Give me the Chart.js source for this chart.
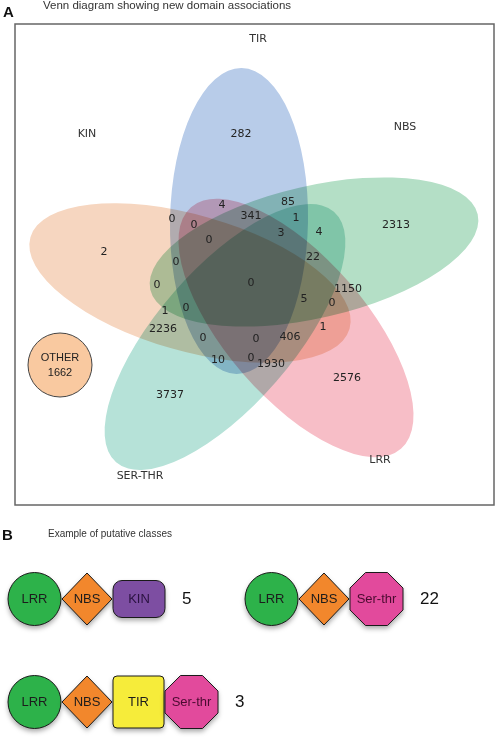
<!DOCTYPE html>
<html>
<head>
<meta charset="utf-8">
<script src="https://cdn.jsdelivr.net/npm/chart.js@4.4.1/dist/chart.umd.min.js"></script>
<style>
  html, body { margin: 0; padding: 0; background: #fff; }
  #wrap { width: 497px; height: 740px; position: relative; }
</style>
</head>
<body>
<div id="wrap"><canvas id="venn"></canvas></div>
<script>
// Data
const setNames = ['TIR', 'KIN', 'NBS', 'SER-THR', 'LRR'];
const regionCounts = [282, 4, 85, 341, 1, 0, 0, 0, 3, 4, 22, 2313, 2, 0, 0, 0, 1150, 5, 0,
    1, 0, 2236, 1, 0, 0, 406, 10, 0, 1930, 2576, 3737];
const otherLabel = 'OTHER';
const otherCount = 1662;
const classDomains = [
    ['LRR', 'NBS', 'KIN'],
    ['LRR', 'NBS', 'Ser-thr'],
    ['LRR', 'NBS', 'TIR', 'Ser-thr']
];
const classCounts = [5, 22, 3];

// Layout (page pixels)
const W = 497, H = 740;
const regionPos = [
    [241, 134], [222, 205], [288, 202], [251, 216], [296, 218], [172, 219], [194, 225], [209, 240],
    [281, 233], [319, 232], [313, 257], [396, 225], [104, 252], [176, 262], [157, 285], [251, 283],
    [348, 289], [304, 299], [332, 303], [165, 311], [186, 308], [163, 329], [323, 327], [203, 338],
    [256, 339], [290, 337], [218, 360], [251, 358], [271, 364], [347, 378], [170, 395]
];
const setLabelPos = [[258, 39], [87, 134], [405, 127], [140, 476], [380, 460]];
// center x, center y, half major, half minor, major axis angle (deg), fill
const ellipseShapes = [
    { cx: 239, cy: 221, a: 153, b: 69, rot: 91, fill: 'rgb(184,204,233)' },
    { cx: 190, cy: 283, a: 166, b: 68, rot: 16, fill: 'rgb(246,214,192)' },
    { cx: 314, cy: 252, a: 168, b: 66, rot: -13, fill: 'rgb(180,223,198)' },
    { cx: 225, cy: 337, a: 166, b: 68, rot: -49, fill: 'rgb(182,226,216)' },
    { cx: 296, cy: 328, a: 160, b: 70, rot: 49, fill: 'rgb(247,190,199)' }
];
const domainStyle = {
    'LRR': { shape: 'circle', w: 53, h: 53, fill: '#2db24a', text: '#1c1c1c' },
    'NBS': { shape: 'diamond', w: 50, h: 52, fill: '#f2872c', text: '#1c1c1c' },
    'KIN': { shape: 'pill', w: 52, h: 37, fill: '#7d4ea2', text: '#2a1240' },
    'Ser-thr': { shape: 'octagon', w: 53, h: 53, fill: '#e24a9c', text: '#4a0b30' },
    'TIR': { shape: 'square', w: 51, h: 52, fill: '#f6ec3a', text: '#1c1c1c' }
};
const classRows = [[8, 599], [245, 599], [8, 702]];

function shapePath(ctx, s, cx, cy) {
    const w = s.w, h = s.h;
    ctx.beginPath();
    if (s.shape === 'circle') {
        ctx.arc(cx, cy, w / 2, 0, Math.PI * 2);
    } else if (s.shape === 'diamond') {
        ctx.moveTo(cx, cy - h / 2);
        ctx.lineTo(cx + w / 2, cy);
        ctx.lineTo(cx, cy + h / 2);
        ctx.lineTo(cx - w / 2, cy);
        ctx.closePath();
    } else if (s.shape === 'octagon') {
        const r = w / 2 / Math.cos(Math.PI / 8);
        for (let i = 0; i < 8; i++) {
            const ang = Math.PI / 8 + i * Math.PI / 4;
            const x = cx + r * Math.cos(ang), y = cy + r * Math.sin(ang);
            if (i === 0) ctx.moveTo(x, y); else ctx.lineTo(x, y);
        }
        ctx.closePath();
    } else {
        const rad = s.shape === 'pill' ? 9 : 4;
        ctx.roundRect(cx - w / 2, cy - h / 2, w, h, rad);
    }
}

const vennPlugin = {
    id: 'venn',
    beforeDatasetsDraw(chart) {
        const ctx = chart.ctx;
        const xs = chart.scales.x, ys = chart.scales.y;
        const px = v => xs.getPixelForValue(v);
        const py = v => ys.getPixelForValue(v);
        const k = px(1) - px(0);
        ctx.save();

        // panel A header
        ctx.fillStyle = '#111';
        ctx.font = 'bold 15px "Liberation Sans", Arial, sans-serif';
        ctx.textAlign = 'left';
        ctx.textBaseline = 'alphabetic';
        ctx.fillText('A', px(3), py(17));
        ctx.fillStyle = '#333';
        ctx.font = '11.5px "Liberation Sans", Arial, sans-serif';
        ctx.textBaseline = 'middle';
        ctx.fillText('Venn diagram showing new domain associations', px(43), py(6));

        // frame
        ctx.strokeStyle = '#666';
        ctx.lineWidth = 1.5;
        ctx.strokeRect(px(15), py(24), px(494) - px(15), py(505) - py(24));

        // ellipses, overlaps darken like layered transparencies
        ctx.save();
        ctx.globalCompositeOperation = 'multiply';
        ellipseShapes.forEach(e => {
            ctx.beginPath();
            ctx.ellipse(px(e.cx), py(e.cy), e.a * k, e.b * k, e.rot * Math.PI / 180, 0, Math.PI * 2);
            ctx.fillStyle = e.fill;
            ctx.fill();
        });
        ctx.restore();

        // set labels
        ctx.fillStyle = '#333';
        ctx.font = '11px "DejaVu Sans", sans-serif';
        ctx.textAlign = 'center';
        ctx.textBaseline = 'middle';
        setNames.forEach((n, i) => ctx.fillText(n, px(setLabelPos[i][0]), py(setLabelPos[i][1])));

        // other circle
        ctx.beginPath();
        ctx.arc(px(60), py(365), 32 * k, 0, Math.PI * 2);
        ctx.fillStyle = '#f9c9a0';
        ctx.fill();
        ctx.strokeStyle = '#444';
        ctx.lineWidth = 1;
        ctx.stroke();
        ctx.fillStyle = '#222';
        ctx.font = '11px "Liberation Sans", Arial, sans-serif';
        ctx.fillText(otherLabel, px(60), py(358));
        ctx.fillText(String(otherCount), px(60), py(373));

        // panel B header
        ctx.textAlign = 'left';
        ctx.fillStyle = '#111';
        ctx.font = 'bold 15px "Liberation Sans", Arial, sans-serif';
        ctx.textBaseline = 'alphabetic';
        ctx.fillText('B', px(2), py(540));
        ctx.fillStyle = '#333';
        ctx.font = '10px "Liberation Sans", Arial, sans-serif';
        ctx.textBaseline = 'middle';
        ctx.fillText('Example of putative classes', px(48), py(534));

        // domain classes
        classDomains.forEach((doms, r) => {
            let x = classRows[r][0];
            const y = classRows[r][1];
            doms.forEach(d => {
                const s = domainStyle[d];
                const cx = x + s.w / 2;
                ctx.save();
                ctx.shadowColor = 'rgba(0,0,0,0.35)';
                ctx.shadowBlur = 5;
                ctx.shadowOffsetY = 3;
                shapePath(ctx, s, px(cx), py(y));
                ctx.fillStyle = s.fill;
                ctx.fill();
                ctx.restore();
                shapePath(ctx, s, px(cx), py(y));
                ctx.strokeStyle = '#1a1a1a';
                ctx.lineWidth = 1;
                ctx.stroke();
                ctx.fillStyle = s.text;
                ctx.font = '13px "Liberation Sans", Arial, sans-serif';
                ctx.textAlign = 'center';
                ctx.fillText(d, px(cx), py(y));
                x += s.w + 1;
            });
            ctx.fillStyle = '#111';
            ctx.font = '17px "Liberation Sans", Arial, sans-serif';
            ctx.textAlign = 'left';
            ctx.fillText(String(classCounts[r]), px(x + 16), py(y));
        });
        ctx.restore();
    },
    afterDatasetsDraw(chart) {
        const ctx = chart.ctx;
        const meta = chart.getDatasetMeta(0);
        ctx.save();
        ctx.fillStyle = '#222';
        ctx.font = '11px "DejaVu Sans", sans-serif';
        ctx.textAlign = 'center';
        ctx.textBaseline = 'middle';
        meta.data.forEach((pt, i) => ctx.fillText(String(regionCounts[i]), pt.x, pt.y));
        ctx.restore();
    }
};

new Chart(document.getElementById('venn'), {
    type: 'scatter',
    data: {
        datasets: [{
            data: regionCounts.map((v, i) => ({ x: regionPos[i][0], y: regionPos[i][1] })),
            pointRadius: 0,
            pointHoverRadius: 0
        }]
    },
    options: {
        responsive: true,
        maintainAspectRatio: false,
        animation: false,
        events: [],
        layout: { padding: 0 },
        plugins: { legend: { display: false }, tooltip: { enabled: false } },
        scales: {
            x: { type: 'linear', display: false, min: 0, max: W },
            y: { type: 'linear', display: false, min: 0, max: H, reverse: true }
        }
    },
    plugins: [vennPlugin]
});
</script>
</body>
</html>
